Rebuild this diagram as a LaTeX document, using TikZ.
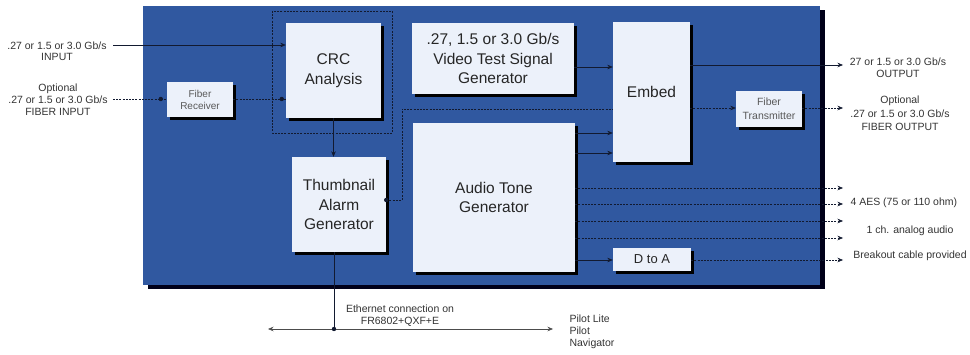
\documentclass[tikz,border=0pt]{standalone}
\usepackage{fontspec}
\setmainfont{Liberation Sans}
\usetikzlibrary{shadows, arrows.meta}

\definecolor{panelblue}{RGB}{48,88,160}
\definecolor{boxfill}{RGB}{236,241,250}
\definecolor{linedark}{RGB}{18,26,48}

\begin{document}
\begin{tikzpicture}[x=1pt, y=-1pt, >={Stealth[length=5.5pt, width=4.5pt]},
	blk/.style={fill=boxfill, inner sep=0pt, align=center, text=black!85,
		drop shadow={shadow xshift=3pt, shadow yshift=-3pt, fill=black, opacity=1}},
	bigtxt/.style={font=\fontsize{15.5}{19.5}\selectfont},
	smtxt/.style={font=\fontsize{10.5}{12}\selectfont, text=black!80, align=center},
	sig/.style={->, draw=linedark, line width=0.6pt},
	dotln/.style={draw=linedark, line width=0.5pt, dash pattern=on 2pt off 1.2pt}]
	
	% bounding box
	\useasboundingbox (0,0) rectangle (970,355);
	
	% panel
	\node[fill=panelblue, inner sep=0pt, minimum width=677pt, minimum height=279pt,
		drop shadow={shadow xshift=4.5pt, shadow yshift=-4.5pt, fill=black!90!blue, opacity=1}]
		(panel) at (481.5,145.5) {};
	\draw[dotln] (272,11) rectangle (392,133);
	
	% blocks
	\node[blk, bigtxt, minimum width=95pt, minimum height=95pt] (crc) at (333.5,70.5) {CRC\\Analysis};
	\node[blk, bigtxt, minimum width=162pt, minimum height=71pt] (vtsg) at (493,58.5) {.27, 1.5 or 3.0 Gb/s\\Video Test Signal\\Generator};
	\node[blk, bigtxt, minimum width=162pt, minimum height=149pt] (audio) at (494,197.5) {Audio Tone\\Generator};
	\node[blk, bigtxt, minimum width=94pt, minimum height=95pt] (thumb) at (339,204.5) {Thumbnail\\Alarm\\Generator};
	\node[blk, bigtxt, minimum width=77pt, minimum height=140pt] (embed) at (651.5,92) {Embed};
	\node[blk, font=\fontsize{10}{12}\selectfont, text=black!65, minimum width=66pt, minimum height=35pt] (fibrx) at (200,99.5) {Fiber\\Receiver};
	\node[blk, font=\fontsize{10.5}{14}\selectfont, text=black!65, minimum width=66pt, minimum height=36pt] (fibtx) at (769,109) {Fiber\\Transmitter};
	\node[blk, font=\fontsize{13}{15}\selectfont, minimum width=78pt, minimum height=23pt] (dtoa) at (652,259.5) {D to A};
	
	% inputs
	\coordinate (inA) at (113,45);
	\coordinate (inB) at (113,99);
	\draw[sig] (inA) -- (inA -| crc.west);
	\draw[dotln] (inB) -- (inB -| fibrx.west);
	\draw[dotln] (inB -| fibrx.east) -- (inB -| crc.west);
	\fill[linedark] ([xshift=-6pt]inB -| fibrx.west) circle (2.2pt);
	\fill[linedark] ([xshift=-4pt]inB -| crc.west) circle (2.2pt);
	
	% crc -> thumbnail -> embed
	\draw[sig] (crc.south) -- (crc.south |- thumb.north);
	\draw[dotln] (thumb.east |- 0,200) -- (402,200) -- (402,109) -- (embed.west |- 0,109);
	\fill[linedark] (thumb.east |- 0,200) circle (2.2pt);
	
	% generators -> embed
	\draw[sig] (vtsg.east |- 0,67) -- (embed.west |- 0,67);
	\foreach \y in {133,153}
		\draw[sig] (audio.east |- 0,\y) -- (embed.west |- 0,\y);
	
	% outputs
	\coordinate (outA) at (843,65);
	\coordinate (outB) at (843,108);
	\draw[sig] (embed.east |- outA) -- (outA);
	\draw[sig, dotln] (embed.east |- outB) -- (outB -| fibtx.west);
	\draw[sig, dotln] (outB -| fibtx.east) -- (outB);
	\foreach \y [count=\i] in {188,204,221,238} {
		\coordinate (aes\i) at (843,\y);
		\draw[sig, dotln] (audio.east |- aes\i) -- (aes\i);
	}
	\coordinate (outC) at (843,260);
	\draw[sig] (audio.east |- outC) -- (outC -| dtoa.west);
	\draw[sig, dotln] (outC -| dtoa.east) -- (outC);
	
	% ethernet
	\coordinate (ethL) at (268,329);
	\coordinate (ethR) at (553,329);
	\coordinate (ethJ) at (334,329);
	\draw[linedark, line width=0.6pt] (thumb.south -| ethJ) -- (ethJ);
	\draw[<->, black!70, line width=0.6pt] (ethL) -- (ethR);
	\fill[linedark] (ethJ) circle (2.2pt);
	
	% labels
	\node[smtxt, font=\fontsize{10.5}{11}\selectfont] (inAtxt) at (57,51) {.27 or 1.5 or 3.0 Gb/s\\INPUT};
	\node[smtxt] (inBtxt) at (58,99.5) {Optional\\.27 or 1.5 or 3.0 Gb/s\\FIBER INPUT};
	\node[smtxt] (outAtxt) at (898,68) {27 or 1.5 or 3.0 Gb/s\\OUTPUT};
	\node[smtxt, font=\fontsize{10.5}{13.5}\selectfont] (outBtxt) at (900,113.5) {Optional\\.27 or 1.5 or 3.0 Gb/s\\FIBER OUTPUT};
	\node[smtxt, anchor=west] (aestxt) at (847,203) {4 AES (75 or 110 ohm)};
	\node[smtxt] (anatxt) at (910,231) {1 ch. analog audio};
	\node[smtxt] (brktxt) at (910,256) {Breakout cable provided};
	\node[smtxt] (ethtxt) at (400,316) {Ethernet connection on\\FR6802+QXF+E};
	\node[smtxt, align=left, anchor=west] (pilottxt) at (566,332) {Pilot Lite\\Pilot\\Navigator};
\end{tikzpicture}
\end{document}
